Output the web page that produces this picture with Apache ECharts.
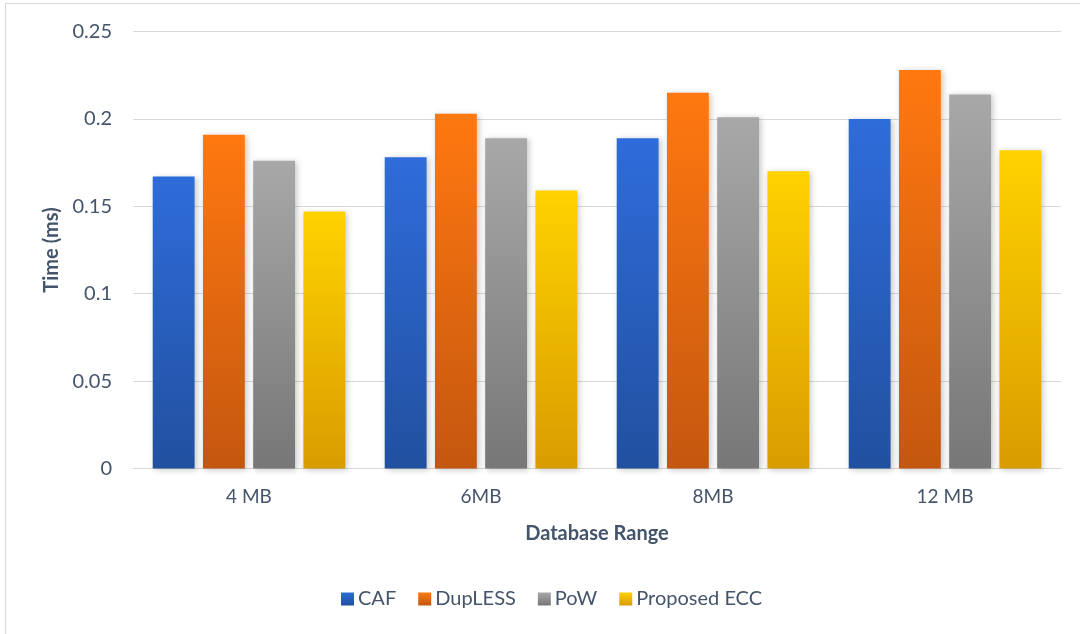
<!DOCTYPE html>
<html>
<head>
<meta charset="utf-8">
<title>Database Range vs Time</title>
<script src="https://cdn.jsdelivr.net/npm/echarts@6/dist/echarts.min.js"></script>
<style>
  html, body { margin: 0; padding: 0; background: #ffffff; }
  #chart { width: 1080px; height: 634px; }
</style>
</head>
<body>
<div id="chart"></div>
<script>
// Categories and measured times (ms)
const categories = ['4 MB', '6MB', '8MB', '12 MB'];
const cafValues = [0.167, 0.178, 0.189, 0.200];
const duplessValues = [0.191, 0.203, 0.215, 0.228];
const powValues = [0.176, 0.189, 0.201, 0.214];
const eccValues = [0.147, 0.159, 0.170, 0.182];
const yTicks = [0, 0.05, 0.1, 0.15, 0.2, 0.25];

const FONT = 'Lato, "Open Sans", sans-serif';
const TEXT = '#44546a';

function grad(top, bottom) {
  return new echarts.graphic.LinearGradient(0, 0, 0, 1, [
    { offset: 0, color: top },
    { offset: 1, color: bottom }
  ]);
}

function barSeries(name, data, top, bottom) {
  return {
    name: name,
    type: 'bar',
    data: data,
    barGap: '20%',
    barCategoryGap: '17%',
    itemStyle: {
      color: grad(top, bottom),
      shadowBlur: 6,
      shadowColor: 'rgba(0,0,0,0.22)',
      shadowOffsetX: 2,
      shadowOffsetY: 1
    }
  };
}

const chart = echarts.init(document.getElementById('chart'), null, { renderer: 'canvas' });
chart.setOption({
  animation: false,
  backgroundColor: '#ffffff',
  textStyle: { fontFamily: FONT, color: TEXT },
  graphic: [{
    type: 'rect',
    shape: { x: 5.5, y: 3.5, width: 1100, height: 700 },
    style: { fill: 'none', stroke: '#d9d9d9', lineWidth: 1.2 },
    silent: true,
    z: -1
  }],
  grid: { left: 133, right: 19, top: 31.5, bottom: 165.5 },
  legend: {
    bottom: 20,
    left: 336,
    itemWidth: 13,
    itemHeight: 13,
    itemGap: 22,
    icon: 'rect',
    textStyle: { fontFamily: FONT, fontSize: 20, color: TEXT, padding: [0, 0, 0, -1] },
    itemStyle: { shadowBlur: 0, shadowOffsetX: 0, shadowOffsetY: 0 },
    data: ['CAF', 'DupLESS', 'PoW', 'Proposed ECC']
  },
  xAxis: {
    type: 'category',
    data: categories,
    name: 'Database Range',
    nameLocation: 'middle',
    nameGap: 55,
    nameTextStyle: { fontFamily: FONT, fontSize: 20, fontWeight: 'bold', color: TEXT },
    axisLine: { lineStyle: { color: '#d9d9d9', width: 1 } },
    axisTick: { show: false },
    axisLabel: { margin: 19, fontSize: 19, color: TEXT, fontFamily: FONT }
  },
  yAxis: {
    type: 'value',
    min: 0,
    max: 0.25,
    interval: 0.05,
    name: 'Time (ms)',
    nameLocation: 'middle',
    nameGap: 60,
    nameTextStyle: { fontFamily: FONT, fontSize: 20, fontWeight: 'bold', color: TEXT },
    axisLine: { show: false },
    axisTick: { show: false },
    splitLine: { lineStyle: { color: '#d9d9d9', width: 1 } },
    axisLabel: {
      margin: 21,
      fontSize: 20,
      color: TEXT,
      fontFamily: FONT,
      formatter: function (v) {
        const hit = yTicks.find(function (t) { return Math.abs(t - v) < 1e-9; });
        return hit === undefined ? '' : String(hit);
      }
    }
  },
  series: [
    barSeries('CAF', cafValues, '#2f6cdb', '#21509f'),
    barSeries('DupLESS', duplessValues, '#ff7810', '#c4570f'),
    barSeries('PoW', powValues, '#a8a8a8', '#777777'),
    barSeries('Proposed ECC', eccValues, '#ffd200', '#d99c00')
  ]
});
</script>
</body>
</html>
